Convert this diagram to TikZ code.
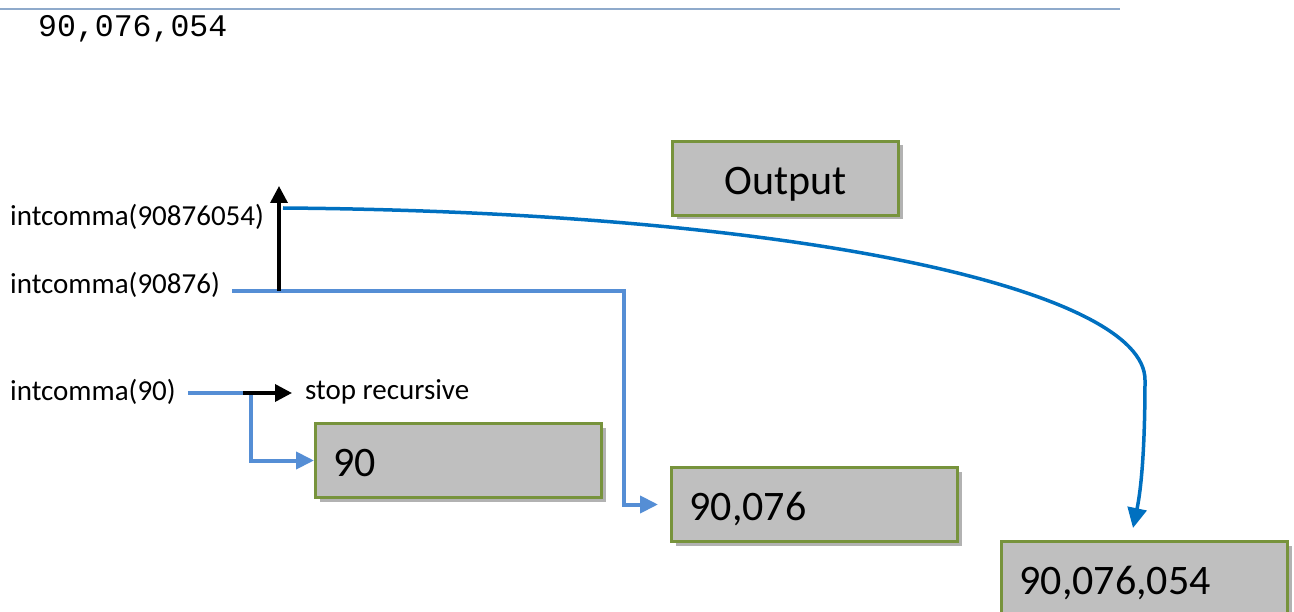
\documentclass[tikz,border=0pt]{standalone}
\usepackage{fontspec}
\setmainfont{Carlito}
\newfontfamily\monofont{Liberation Mono}
\usetikzlibrary{arrows.meta,shadows}
\definecolor{boxfill}{HTML}{BFBFBF}
\definecolor{boxline}{HTML}{77933C}
\definecolor{lightblue}{HTML}{558ED5}
\definecolor{darkblue}{HTML}{0070C0}
\definecolor{rulecol}{HTML}{8FAACB}
\tikzset{
  callnode/.style={anchor=west, inner xsep=12pt, inner ysep=2pt, font=\fontsize{29}{33}\selectfont},
  valbox/.style={anchor=north west, draw=boxline, line width=3pt, fill=boxfill,
    minimum width=286pt, minimum height=74pt, text width=250pt, align=left,
    font=\fontsize{42}{46}\selectfont, text height=32pt, text depth=0pt,
    drop shadow={shadow xshift=4pt, shadow yshift=-4pt, fill=black!30, opacity=1}},
  blueline/.style={draw=lightblue, line width=4pt, -{Triangle[length=18pt,width=17pt]}},
  blackline/.style={draw=black, line width=3.5pt, -{Triangle[length=17pt,width=17pt]}},
  curveline/.style={draw=darkblue, line width=3.5pt, -{Triangle[length=20pt,width=19pt]}}
}
\begin{document}
\begin{tikzpicture}[x=1pt, y=-1pt]
        \useasboundingbox (0,0) rectangle (1294,612);
        % top output line
        \draw[rulecol, line width=1.5pt] (0,9) -- (1120,9);
        \node[anchor=west, inner sep=0pt, font=\monofont\fontsize{31.5}{33}\selectfont] (shell) at (38,29) {90,076,054};
        % calls
        \node[callnode] (c054) at (-2,217) {intcomma(90876054)};
        \node[callnode] (c876) at (-2,285) {intcomma(90876)};
        \node[callnode] (c90) at (-2,392) {intcomma(90)};
        \node[anchor=west, inner sep=0pt, font=\fontsize{29}{33}\selectfont] (stop) at (305,392) {stop recursive};
        % value boxes
        \node[valbox, minimum width=226pt, text width=200pt, align=center] (out) at (671,140) {Output};
        \node[valbox] (b90) at (314,422) {90};
        \node[valbox] (b076) at (670,466) {90,076};
        \node[valbox] (b054) at (1000,540) {90,076,054};
        % connectors
        \coordinate (split) at (251,393);
        \coordinate (stopend) at (292,393);
        \coordinate (turn) at (624,291);
        \coordinate (rise) at (279,291);
        \coordinate (riseend) at (279,186);
        \coordinate (ret) at (283,208);
        \coordinate (retend) at (1133,528);
        \draw[blueline] (c90.east |- split) -- (split) |- (b90.west);
        \draw[blackline] (243,393) -- (stopend);
        \draw[blueline, shorten >=12pt] (c876.east |- turn) -- (turn) |- (b076.west);
        \draw[blackline] (rise) -- (riseend);
        \draw[curveline] (ret) .. controls (800,212) and (1145,290) .. (1145,380)
          .. controls (1145,450) and (1141,490) .. (retend);
\end{tikzpicture}
\end{document}
